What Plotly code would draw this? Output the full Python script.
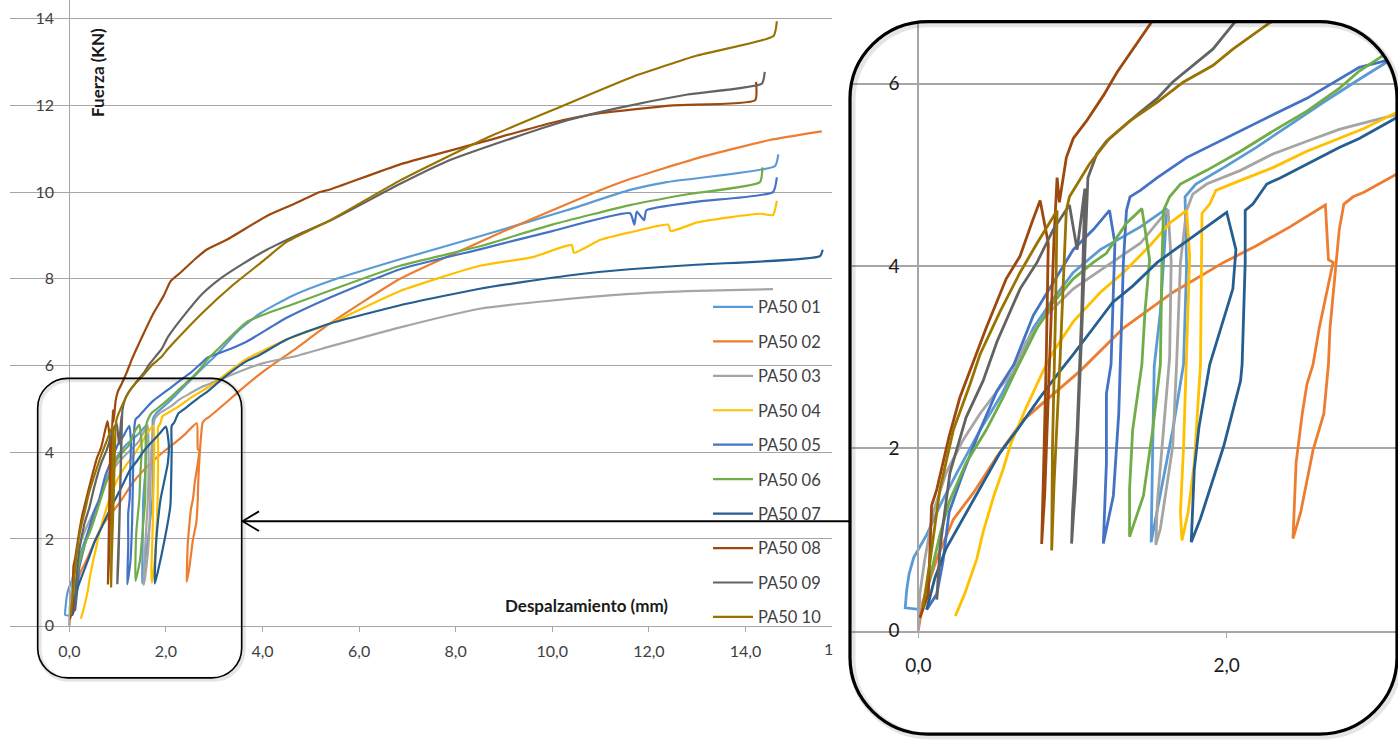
import plotly.graph_objects as go

W, H = 1398, 747

names = ["PA50 01", "PA50 02", "PA50 03", "PA50 04", "PA50 05",
         "PA50 06", "PA50 07", "PA50 08", "PA50 09", "PA50 10"]
colors = ["#5B9BD5", "#ED7D31", "#A5A5A5", "#FFC000", "#4472C4",
          "#70AD47", "#255E91", "#9E480E", "#636363", "#997300"]

x_pa01 = [0.02, -0.085, -0.075, -0.06, -0.03, 0.054, 0.14, 0.25, 0.40, 0.53, 0.64, 0.746, 0.875, 1.005, 1.18, 1.33, 1.44, 1.61, 1.60, 1.57, 1.53, 1.52, 1.51, 1.51, 1.57, 1.65, 1.72, 1.74, 1.73, 1.80, 1.98, 2.19, 2.41, 2.63, 2.86, 3.05, 3.5, 3.95, 4.6, 5.4, 6.85, 8.5, 10.3, 11.61, 12.37, 14.61, 14.68]
y_pa01 = [0.23, 0.25, 0.45, 0.62, 0.80, 1.05, 1.37, 1.73, 2.20, 2.56, 2.92, 3.32, 3.64, 3.93, 4.18, 4.32, 4.43, 4.63, 4.30, 3.50, 2.90, 2.00, 1.30, 0.97, 1.50, 2.20, 2.92, 4.00, 4.76, 4.90, 5.08, 5.30, 5.55, 5.80, 6.05, 6.25, 6.80, 7.20, 7.60, 7.95, 8.45, 8.98, 9.58, 10.05, 10.23, 10.60, 10.87]

x_pa02 = [0, 0.03, 0.12, 0.227, 0.357, 0.51, 0.68, 0.875, 1.05, 1.33, 1.65, 1.98, 2.19, 2.41, 2.64, 2.66, 2.69, 2.60, 2.56, 2.52, 2.49, 2.45, 2.44, 2.43, 2.48, 2.56, 2.63, 2.66, 2.67, 2.73, 2.76, 2.82, 2.89, 3.2, 3.53, 4.0, 4.64, 5.4, 6.85, 8.5, 9.54, 10.99, 11.61, 13.06, 14.5, 15.58]
y_pa02 = [0, 0.32, 0.79, 1.22, 1.51, 1.91, 2.31, 2.60, 2.85, 3.32, 3.71, 4.04, 4.22, 4.43, 4.67, 4.07, 4.04, 3.32, 2.92, 2.70, 2.38, 1.84, 1.48, 1.01, 1.30, 1.98, 2.38, 2.92, 3.32, 4.40, 4.68, 4.76, 4.81, 5.10, 5.42, 5.85, 6.35, 6.97, 8.00, 8.85, 9.36, 10.04, 10.30, 10.80, 11.20, 11.40]

x_pa03 = [0, 0.01, 0.04, 0.097, 0.18, 0.29, 0.40, 0.53, 0.62, 0.70, 0.83, 1.005, 1.22, 1.44, 1.62, 1.64, 1.63, 1.58, 1.55, 1.54, 1.57, 1.65, 1.675, 1.70, 1.74, 1.78, 1.87, 2.09, 2.30, 2.52, 2.73, 2.89, 3.5, 4.0, 4.7, 5.4, 6.85, 8.5, 10.0, 11.6, 13.0, 14.57]
y_pa03 = [0, 0.40, 0.76, 1.30, 1.73, 2.09, 2.38, 2.67, 2.85, 3.17, 3.46, 3.75, 4.00, 4.25, 4.62, 4.05, 3.00, 2.00, 1.40, 0.94, 1.12, 2.02, 2.92, 4.04, 4.61, 4.79, 4.90, 5.05, 5.23, 5.37, 5.50, 5.57, 5.85, 6.05, 6.22, 6.44, 6.88, 7.31, 7.50, 7.65, 7.72, 7.76]

x_pa04 = [0.24, 0.30, 0.38, 0.42, 0.49, 0.55, 0.60, 0.70, 0.81, 0.875, 1.005, 1.18, 1.33, 1.50, 1.63, 1.74, 1.76, 1.74, 1.72, 1.70, 1.71, 1.75, 1.79, 1.83, 1.84, 1.84, 1.89, 1.93, 2.09, 2.30, 2.52, 2.73, 2.89, 3.3, 3.67, 4.5, 5.4, 6.85, 8.5, 9.6, 10.4, 10.45, 11.0, 11.61, 12.4, 12.45, 13.0, 14.3, 14.57, 14.65]
y_pa04 = [0.16, 0.40, 0.79, 1.08, 1.48, 1.77, 2.05, 2.45, 2.85, 3.06, 3.39, 3.71, 3.93, 4.22, 4.47, 4.61, 4.11, 3.00, 2.00, 1.30, 0.99, 1.30, 1.84, 2.92, 4.04, 4.58, 4.68, 4.83, 4.94, 5.08, 5.26, 5.40, 5.51, 5.85, 6.15, 6.60, 6.97, 7.72, 8.30, 8.50, 8.78, 8.60, 8.90, 9.07, 9.25, 9.10, 9.30, 9.50, 9.47, 9.80]

x_pa05 = [0.054, 0.12, 0.16, 0.20, 0.29, 0.40, 0.51, 0.62, 0.746, 0.875, 1.005, 1.135, 1.24, 1.275, 1.26, 1.25, 1.22, 1.22, 1.20, 1.265, 1.30, 1.31, 1.33, 1.35, 1.373, 1.44, 1.55, 1.74, 1.87, 2.09, 2.30, 2.52, 2.73, 2.86, 3.26, 3.67, 4.5, 5.4, 6.85, 8.5, 10.0, 11.61, 11.7, 11.75, 11.9, 11.95, 13.0, 14.57, 14.65]
y_pa05 = [0.23, 0.40, 0.76, 1.30, 1.73, 2.20, 2.63, 2.92, 3.46, 3.82, 4.18, 4.40, 4.61, 4.25, 3.50, 2.92, 2.60, 1.84, 0.955, 1.48, 2.38, 2.92, 4.04, 4.61, 4.76, 4.83, 4.97, 5.19, 5.30, 5.48, 5.66, 5.84, 6.05, 6.18, 6.35, 6.55, 7.10, 7.57, 8.22, 8.68, 9.10, 9.51, 9.25, 9.55, 9.35, 9.58, 9.78, 10.00, 10.34]

x_pa06 = [0.03, 0.076, 0.14, 0.20, 0.31, 0.44, 0.55, 0.64, 0.77, 0.875, 1.005, 1.135, 1.22, 1.29, 1.35, 1.45, 1.50, 1.47, 1.45, 1.39, 1.37, 1.37, 1.46, 1.52, 1.57, 1.58, 1.59, 1.63, 1.70, 1.87, 2.09, 2.30, 2.52, 2.73, 2.86, 3.05, 3.67, 4.09, 4.6, 5.4, 6.85, 8.5, 10.0, 11.61, 12.8, 14.3, 14.35]
y_pa06 = [0.25, 0.58, 1.05, 1.41, 1.84, 2.20, 2.56, 2.88, 3.32, 3.60, 3.86, 4.04, 4.14, 4.32, 4.47, 4.63, 4.07, 3.50, 2.92, 2.20, 1.55, 1.03, 1.48, 2.20, 2.92, 4.04, 4.61, 4.76, 4.90, 5.05, 5.26, 5.48, 5.70, 5.95, 6.14, 6.35, 7.00, 7.20, 7.40, 7.73, 8.30, 8.75, 9.25, 9.70, 9.95, 10.23, 10.57]

x_pa07 = [0.054, 0.108, 0.18, 0.29, 0.40, 0.53, 0.64, 0.79, 0.92, 1.005, 1.135, 1.26, 1.39, 1.55, 1.72, 1.87, 2.00, 2.06, 2.04, 1.89, 1.82, 1.79, 1.77, 1.83, 1.98, 2.09, 2.10, 2.12, 2.12, 2.17, 2.26, 2.35, 2.52, 2.73, 2.86, 3.2, 3.67, 3.95, 4.5, 5.4, 6.85, 8.5, 10.3, 11.6, 13.06, 15.54, 15.6]
y_pa07 = [0.23, 0.58, 0.90, 1.23, 1.55, 1.95, 2.20, 2.56, 2.85, 3.03, 3.32, 3.60, 3.78, 4.04, 4.25, 4.43, 4.59, 4.18, 3.75, 2.92, 2.23, 1.77, 0.97, 1.23, 2.02, 2.74, 2.92, 4.04, 4.61, 4.68, 4.90, 4.97, 5.12, 5.30, 5.40, 5.72, 6.10, 6.25, 6.60, 6.97, 7.39, 7.77, 8.07, 8.22, 8.33, 8.52, 8.67]

x_pa08 = [0.01, 0.065, 0.086, 0.12, 0.16, 0.20, 0.27, 0.335, 0.44, 0.57, 0.66, 0.735, 0.79, 0.843, 0.83, 0.81, 0.80, 0.82, 0.85, 0.88, 0.90, 0.915, 0.96, 1.005, 1.09, 1.20, 1.29, 1.39, 1.51, 1.74, 1.95, 2.1, 2.3, 2.6, 2.84, 3.26, 4.09, 4.64, 5.19, 5.4, 6.85, 8.5, 10.0, 10.99, 12.5, 14.2, 14.22]
y_pa08 = [0.14, 0.40, 1.37, 1.55, 1.84, 2.13, 2.56, 2.85, 3.32, 3.86, 4.11, 4.47, 4.72, 4.25, 3.00, 1.60, 0.95, 1.50, 2.90, 4.30, 4.97, 4.70, 5.19, 5.40, 5.59, 5.87, 6.13, 6.38, 6.67, 7.20, 7.60, 7.95, 8.14, 8.45, 8.67, 8.90, 9.45, 9.72, 10.00, 10.06, 10.64, 11.14, 11.60, 11.82, 12.00, 12.12, 12.54]

x_pa09 = [0.12, 0.14, 0.205, 0.31, 0.42, 0.51, 0.66, 0.77, 0.875, 0.98, 1.03, 1.08, 1.06, 1.03, 1.00, 0.994, 1.02, 1.05, 1.08, 1.10, 1.157, 1.22, 1.44, 1.55, 1.65, 1.78, 1.91, 2.05, 2.43, 2.75, 3.12, 3.6, 4.09, 4.8, 5.47, 6.85, 7.8, 9.19, 10.3, 11.33, 12.8, 14.34, 14.4]
y_pa09 = [0.34, 0.90, 1.73, 2.34, 2.74, 3.17, 3.75, 4.04, 4.40, 4.67, 4.18, 4.85, 3.50, 2.20, 1.30, 0.955, 1.60, 2.90, 4.20, 4.97, 5.23, 5.37, 5.69, 5.84, 6.02, 6.20, 6.38, 6.67, 7.23, 7.65, 8.00, 8.35, 8.67, 9.05, 9.38, 10.19, 10.70, 11.25, 11.65, 11.93, 12.25, 12.50, 12.77]

x_pa10 = [0.03, 0.076, 0.14, 0.227, 0.335, 0.40, 0.53, 0.66, 0.77, 0.90, 0.89, 0.87, 0.865, 0.88, 0.92, 0.96, 0.98, 1.11, 1.24, 1.37, 1.55, 1.72, 1.91, 2.04, 2.28, 2.77, 3.37, 4.0, 4.5, 5.4, 6.85, 7.8, 8.64, 10.09, 11.67, 13.0, 14.58, 14.65]
y_pa10 = [0.25, 0.76, 1.55, 2.20, 2.70, 3.03, 3.50, 3.93, 4.25, 4.61, 3.50, 2.00, 0.88, 1.60, 3.00, 4.61, 4.76, 5.12, 5.40, 5.59, 5.80, 6.02, 6.20, 6.38, 6.67, 7.23, 7.84, 8.40, 8.85, 9.35, 10.27, 10.80, 11.25, 11.93, 12.66, 13.15, 13.60, 13.94]

xs_all = [x_pa01, x_pa02, x_pa03, x_pa04, x_pa05, x_pa06, x_pa07, x_pa08, x_pa09, x_pa10]
ys_all = [y_pa01, y_pa02, y_pa03, y_pa04, y_pa05, y_pa06, y_pa07, y_pa08, y_pa09, y_pa10]

x_ticks_main = [0, 2, 4, 6, 8, 10, 12, 14]
y_ticks_main = [0, 2, 4, 6, 8, 10, 12, 14]
x_ticks_inset = [0, 2]
y_ticks_inset = [0, 2, 4, 6]

FONT = "Lato, 'Open Sans', sans-serif"
GRID = "#A6A6A6"
TXT = "#404040"

fig = go.Figure()
for n, xs, ys, c in zip(names, xs_all, ys_all, colors):
    fig.add_trace(go.Scatter(x=xs, y=ys, mode="lines", name=n, legendgroup=n,
                             line=dict(color=c, width=2.2, shape="spline", smoothing=0.5),
                             xaxis="x", yaxis="y", hoverinfo="skip"))
for n, xs, ys, c in zip(names, xs_all, ys_all, colors):
    fig.add_trace(go.Scatter(x=xs, y=ys, mode="lines", name=n, legendgroup=n,
                             showlegend=False, line=dict(color=c, width=2.8),
                             xaxis="x2", yaxis="y2", hoverinfo="skip"))


def X(p):
    return p / W


def Y(p):
    return 1 - p / H


K = 0.5523


def rrect(x0, y0, x1, y1, r):
    k = K * r
    pts = [
        f"M{X(x0 + r)},{Y(y0)}",
        f"L{X(x1 - r)},{Y(y0)}",
        f"C{X(x1 - r + k)},{Y(y0)} {X(x1)},{Y(y0 + r - k)} {X(x1)},{Y(y0 + r)}",
        f"L{X(x1)},{Y(y1 - r)}",
        f"C{X(x1)},{Y(y1 - r + k)} {X(x1 - r + k)},{Y(y1)} {X(x1 - r)},{Y(y1)}",
        f"L{X(x0 + r)},{Y(y1)}",
        f"C{X(x0 + r - k)},{Y(y1)} {X(x0)},{Y(y1 - r + k)} {X(x0)},{Y(y1 - r)}",
        f"L{X(x0)},{Y(y0 + r)}",
        f"C{X(x0)},{Y(y0 + r - k)} {X(x0 + r - k)},{Y(y0)} {X(x0 + r)},{Y(y0)}",
        "Z",
    ]
    return " ".join(pts)


def corner(cx, cy, sx, sy, r, ext=8):
    k = K * r
    a = (cx + sx * r, cy)
    b = (cx, cy + sy * r)
    p = [
        f"M{X(a[0])},{Y(a[1])}",
        f"C{X(cx + sx * (r - k))},{Y(cy)} {X(cx)},{Y(cy + sy * (r - k))} {X(b[0])},{Y(b[1])}",
        f"L{X(cx - sx * ext)},{Y(b[1])}",
        f"L{X(cx - sx * ext)},{Y(cy - sy * ext)}",
        f"L{X(a[0])},{Y(cy - sy * ext)}",
        "Z",
    ]
    return " ".join(p)


shapes = []
bx0, by0, bx1, by1, br = 850, 22, 1397, 745, 78
for (cx, cy, sx, sy) in [(bx0, by0, 1, 1), (bx1, by0, -1, 1), (bx1, by1, -1, -1), (bx0, by1, 1, -1)]:
    shapes.append(dict(type="path", xref="paper", yref="paper", path=corner(cx, cy, sx, sy, br),
                       fillcolor="white", line=dict(width=0), layer="above"))
shapes.append(dict(type="path", xref="paper", yref="paper",
                   path=rrect(bx0 + 2, by0 + 2, bx1 + 2, by1 + 2, br),
                   line=dict(color="rgba(0,0,0,0.10)", width=7), layer="above"))
shapes.append(dict(type="path", xref="paper", yref="paper",
                   path=rrect(bx0, by0, bx1, by1, br),
                   line=dict(color="black", width=3.2), layer="above"))
sx0, sy0, sx1, sy1, sr = 37.7, 384, 241.7, 688, 30
shapes.append(dict(type="path", xref="paper", yref="paper",
                   path=rrect(sx0 + 1.5, sy0 + 1.5, sx1 + 1.5, sy1 + 1.5, sr),
                   line=dict(color="rgba(0,0,0,0.10)", width=5), layer="above"))
shapes.append(dict(type="path", xref="paper", yref="paper",
                   path=rrect(sx0, sy0, sx1, sy1, sr),
                   line=dict(color="black", width=1.6), layer="above"))
ay = 529
shapes.append(dict(type="line", xref="paper", yref="paper", x0=X(242.5), y0=Y(ay), x1=X(850), y1=Y(ay),
                   line=dict(color="black", width=2)))
shapes.append(dict(type="line", xref="paper", yref="paper", x0=X(242.5), y0=Y(ay), x1=X(259), y1=Y(ay - 10),
                   line=dict(color="black", width=1.8)))
shapes.append(dict(type="line", xref="paper", yref="paper", x0=X(242.5), y0=Y(ay), x1=X(259), y1=Y(ay + 10),
                   line=dict(color="black", width=1.8)))

annotations = [
    dict(text="<b>Fuerza (KN)</b>", x=X(98), y=Y(74), xref="paper", yref="paper",
         xanchor="center", yanchor="middle",
         textangle=-90, showarrow=False, font=dict(family=FONT, size=17, color="#1a1a1a")),
    dict(text="<b>Despalzamiento (mm)</b>", x=X(586), y=Y(615), xref="paper", yref="paper",
         xanchor="center", yanchor="middle",
         showarrow=False, font=dict(family=FONT, size=17, color="#1a1a1a")),
    dict(text="1", x=X(829), y=Y(658), xref="paper", yref="paper",
         xanchor="center", yanchor="middle",
         showarrow=False, font=dict(family=FONT, size=16, color=TXT)),
]

fig.update_layout(
    width=W, height=H, autosize=False,
    margin=dict(l=0, r=0, t=0, b=0),
    paper_bgcolor="white", plot_bgcolor="white",
    separators=",.",
    font=dict(family=FONT, color=TXT, size=16),
    showlegend=True,
    legend=dict(x=X(708), y=Y(294), xanchor="left", yanchor="top",
                bgcolor="rgba(0,0,0,0)", font=dict(family=FONT, size=16.5, color=TXT),
                tracegroupgap=10, itemwidth=40),
    xaxis=dict(domain=[X(10), X(832.4)], range=[-1.228, 15.8], anchor="y",
               tickvals=x_ticks_main, tickformat=".1f", showgrid=False, zeroline=False,
               showline=True, linecolor=GRID, linewidth=1.3,
               ticks="outside", ticklen=5, tickcolor=GRID, ticklabelstandoff=6,
               tickfont=dict(family=FONT, size=16, color=TXT)),
    yaxis=dict(domain=[1 - 635 / H, 1], range=[0, 14.43], anchor="free", position=X(69.3),
               tickvals=y_ticks_main, showgrid=True, gridcolor=GRID, gridwidth=1.3,
               zeroline=False, showline=True, linecolor=GRID, linewidth=1.3,
               ticks="", ticklabelstandoff=12,
               tickfont=dict(family=FONT, size=16, color=TXT)),
    xaxis2=dict(domain=[X(851.7), 1], range=[-0.432, 3.111], anchor="y2",
                tickvals=x_ticks_inset, tickformat=".1f", showgrid=False, zeroline=False,
                showline=True, linecolor=GRID, linewidth=2,
                ticks="outside", ticklen=5, tickcolor=GRID, ticklabelstandoff=12,
                tickfont=dict(family=FONT, size=19, color="#1a1a1a")),
    yaxis2=dict(domain=[1 - 640 / H, 1 - 22.7 / H], range=[0, 6.674], anchor="free",
                position=X(918.3), tickvals=y_ticks_inset, showgrid=True, gridcolor=GRID,
                gridwidth=2, zeroline=False, showline=True, linecolor=GRID, linewidth=2,
                ticks="", ticklabelstandoff=14,
                tickfont=dict(family=FONT, size=19, color="#1a1a1a")),
    shapes=shapes,
    annotations=annotations,
)

fig.write_html("out.html", config={"displayModeBar": False},
               post_script="document.body.style.margin='0px';document.body.style.padding='0px';document.body.style.overflow='hidden';")
